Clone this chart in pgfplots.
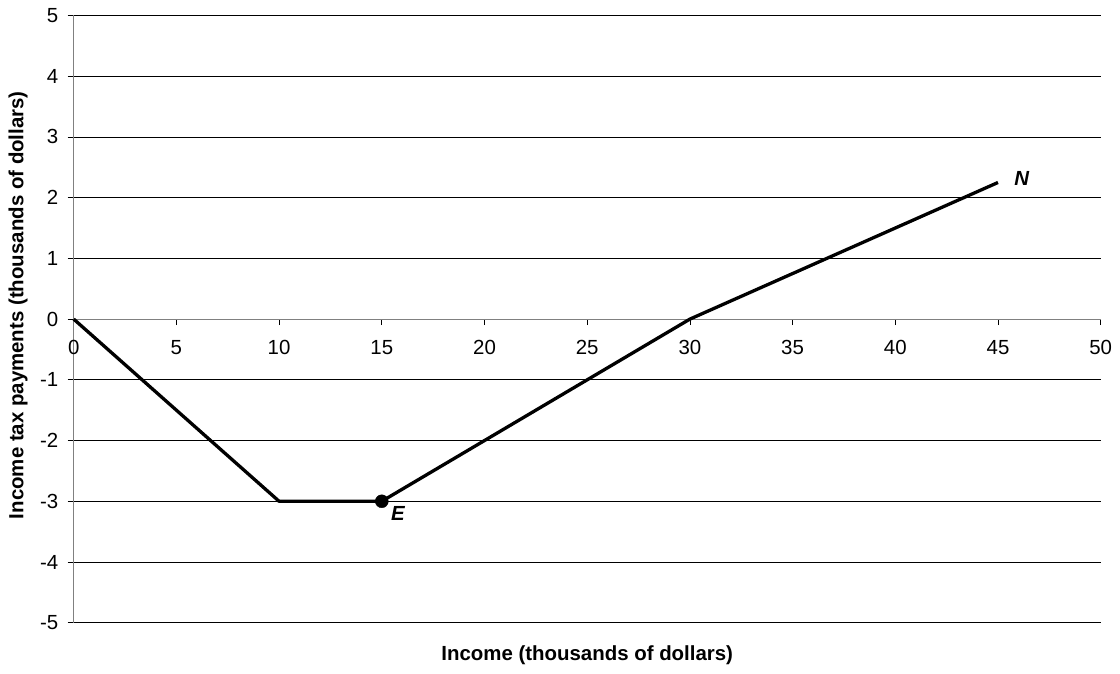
\documentclass[border=0pt]{standalone}
\usepackage{fontspec}
\setmainfont{Liberation Sans}
\usepackage{pgfplots}
\pgfplotsset{compat=1.18}

\begin{document}
\begin{tikzpicture}
  \begin{axis}[
      name=ax,
      scale only axis,
      width=1027bp, height=607.2bp,
      xmin=0, xmax=50, ymin=-5, ymax=5,
      axis x line=middle,
      axis y line=left,
      axis line style={-, draw=gray, line width=1.2bp},
      hide obscured x ticks=false,
      hide obscured y ticks=false,
      xtick={0,5,...,50},
      ytick={-5,-4,...,5},
      xticklabels={0,5,10,15,20,25,30,35,40,45,50},
      yticklabels={-5,-4,-3,-2,-1,0,1,2,3,4,5},
      tick align=outside,
      major tick length=6bp,
      tick style={black, line width=0.8bp},
      ymajorgrids,
      grid style={black, line width=0.8bp},
      ticklabel style={font=\fontsize{20.5}{24}\selectfont},
      xticklabel style={anchor=north, yshift=-12bp},
      yticklabel style={anchor=east, xshift=-6bp},
      clip=false,
  ]
  \addplot[black, line width=3.3bp, line join=round] coordinates {
      (0,0) (10,-3) (15,-3) (30,0) (45,2.25)
  };
  \addplot[only marks, mark=*, mark size=6.5bp, black] coordinates {(15,-3)};
  \node[font=\fontsize{20.5}{24}\selectfont\bfseries\itshape] at (axis cs:15.79,-3.2) {E};
  \node[font=\fontsize{20.5}{24}\selectfont\bfseries\itshape] at (axis cs:46.15,2.32) {N};
  \node[font=\fontsize{20.5}{24}\selectfont\bfseries] at (axis cs:25,-5.53) {Income (thousands of dollars)};
  \node[font=\fontsize{20.5}{24}\selectfont\bfseries, rotate=90] at (axis cs:-2.71,0.23) {Income tax payments (thousands of dollars)};
  \end{axis}
  \pgfresetboundingbox
  \path[use as bounding box] ([shift={(-73.7bp,-50.3bp)}]ax.south west) rectangle ([shift={(19.3bp,15.5bp)}]ax.north east);
\end{tikzpicture}
\end{document}
